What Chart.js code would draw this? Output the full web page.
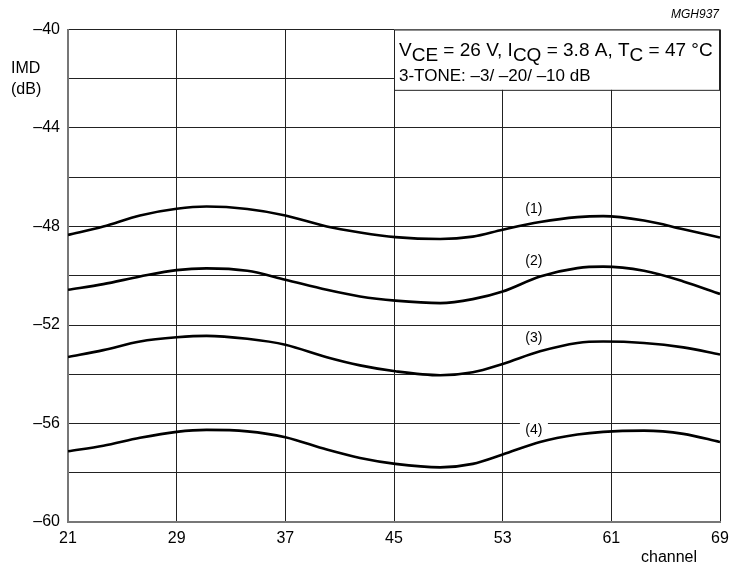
<!DOCTYPE html>
<html>
<head>
<meta charset="utf-8">
<script src="https://cdn.jsdelivr.net/npm/chart.js@4/dist/chart.umd.min.js"></script>
<style>
	body { margin: 0; background: #ffffff; }
	#wrap { width: 730px; height: 571px; }
</style>
</head>
<body>
<div id="wrap"><canvas id="myChart" width="730" height="571"></canvas></div>
<script>
// Data block
const channels = [21, 23.6, 26.3, 29, 31.2, 34.2, 37, 40.05, 42.5, 45.1, 48.4, 50.8, 53, 55.75, 58.5, 60.4, 63.4, 66.3, 69];
const imd1 = [-48.34, -48.0, -47.55, -47.28, -47.19, -47.29, -47.55, -48.0, -48.24, -48.43, -48.51, -48.41, -48.13, -47.82, -47.62, -47.58, -47.76, -48.11, -48.45];
const imd2 = [-50.57, -50.34, -50.03, -49.77, -49.7, -49.8, -50.16, -50.57, -50.84, -51.01, -51.11, -50.95, -50.64, -50.03, -49.69, -49.63, -49.8, -50.23, -50.74];
const imd3 = [-53.3, -53.02, -52.67, -52.5, -52.44, -52.56, -52.8, -53.31, -53.64, -53.88, -54.04, -53.92, -53.58, -53.07, -52.73, -52.67, -52.73, -52.91, -53.2];
const imd4 = [-57.13, -56.9, -56.58, -56.34, -56.26, -56.32, -56.56, -57.06, -57.4, -57.64, -57.78, -57.64, -57.26, -56.75, -56.45, -56.34, -56.29, -56.42, -56.75];

const curveLabels = ["(1)", "(2)", "(3)", "(4)"];
const labelChannel = 55.3;
const labelImd = [-47.28, -49.42, -52.53, -56.25];

const xTicks = [21, 29, 37, 45, 53, 61, 69];
const yTicks = [-60, -56, -52, -48, -44, -40];

function toPoints(xs, ys) {
	return xs.map((x, i) => ({ x: x, y: ys[i] }));
}

function curve(ys) {
	return {
		data: toPoints(channels, ys),
		borderColor: "#000000",
		borderWidth: 2.6,
		pointRadius: 0,
		fill: false,
		cubicInterpolationMode: "monotone",
	};
}

const FONT = "'Liberation Sans', Arial, sans-serif";

// annotations drawn on top of the grid
const annotations = {
	id: "annotations",
	beforeDatasetsDraw(chart) {
		const ctx = chart.ctx;
		const xs = chart.scales.x;
		const ys = chart.scales.y;
		// conditions box
		const bx = xs.getPixelForValue(45);
		const by = ys.getPixelForValue(-40);
		const bw = xs.getPixelForValue(69) - bx;
		const bh = ys.getPixelForValue(-42.45) - by;
		ctx.save();
		ctx.fillStyle = "#ffffff";
		ctx.fillRect(bx, by, bw, bh);
		ctx.strokeStyle = "#222222";
		ctx.lineWidth = 1;
		ctx.strokeRect(bx + 0.5, by + 0.5, bw - 1, bh);

		ctx.fillStyle = "#000000";
		ctx.textBaseline = "alphabetic";
		ctx.textAlign = "left";
		let tx = bx + 5;
		const base1 = by + 26;
		const parts = [
			["V", 0], ["CE", 1], [" = 26 V, I", 0], ["CQ", 1], [" = 3.8 A, T", 0], ["C", 1], [" = 47 \u00b0C", 0],
		];
		parts.forEach((p) => {
			ctx.font = "19px " + FONT;
			ctx.fillText(p[0], tx, base1 + (p[1] ? 5 : 0));
			tx += ctx.measureText(p[0]).width;
		});
		ctx.font = "17px " + FONT;
		ctx.fillText("3-TONE: \u20133/ \u201320/ \u201310 dB", bx + 5, by + 51);

		// curve labels
		ctx.font = "14px " + FONT;
		ctx.textAlign = "center";
		ctx.textBaseline = "middle";
		curveLabels.forEach((lbl, i) => {
			const lx = xs.getPixelForValue(labelChannel);
			const ly = ys.getPixelForValue(labelImd[i]);
			if (i === 3) {
				ctx.fillStyle = "#ffffff";
				ctx.fillRect(lx - 14, ly - 9, 28, 16);
			}
			ctx.fillStyle = "#000000";
			ctx.fillText(lbl, lx, ly);
		});
		ctx.restore();
	},
	afterDraw(chart) {
		const ctx = chart.ctx;
		ctx.save();
		ctx.fillStyle = "#000000";
		ctx.font = "italic 12px " + FONT;
		ctx.textAlign = "right";
		ctx.textBaseline = "middle";
		ctx.fillText("MGH937", 719, 15);
		ctx.font = "16px " + FONT;
		ctx.textAlign = "left";
		ctx.fillText("IMD", 11, 69);
		ctx.fillText("(dB)", 11, 90);
		ctx.textAlign = "center";
		ctx.fillText("channel", 669, 558);
		ctx.restore();
	},
};

// Config Block
const config = {
	type: "line",
	data: {
		datasets: [curve(imd1), curve(imd2), curve(imd3), curve(imd4)],
	},
	options: {
		responsive: false,
		animation: false,
		layout: {
			padding: { top: 29.5, right: 10, left: 0, bottom: 0 },
		},
		plugins: {
			legend: { display: false },
			tooltip: { enabled: false },
		},
		scales: {
			x: {
				type: "linear",
				min: 21,
				max: 69,
				afterBuildTicks: (scale) => {
					scale.ticks = xTicks.map((v) => ({ value: v }));
				},
				afterFit: (scale) => {
					scale.height = 49;
					scale.paddingLeft = 0;
					scale.paddingRight = 0;
				},
				grid: {
					color: "#222222",
					lineWidth: 1,
					drawTicks: false,
				},
				border: { color: "#777777", width: 2 },
				ticks: {
					color: "#000000",
					padding: 7,
					maxRotation: 0,
					font: { size: 16, family: FONT },
				},
			},
			y: {
				min: -60,
				max: -40,
				ticks: {
					stepSize: 2,
					color: "#000000",
					padding: 8,
					font: { size: 16, family: FONT },
					callback: function (value) {
						if (yTicks.includes(value)) {
							return "\u2013" + Math.abs(value);
						}
						return "";
					},
				},
				afterFit: (scale) => {
					scale.width = 68;
				},
				grid: {
					color: "#222222",
					lineWidth: 1,
					drawTicks: false,
				},
				border: { color: "#777777", width: 2 },
			},
		},
	},
	plugins: [annotations],
};

// Render Block
const myChart = new Chart(document.getElementById("myChart"), config);
</script>
</body>
</html>
